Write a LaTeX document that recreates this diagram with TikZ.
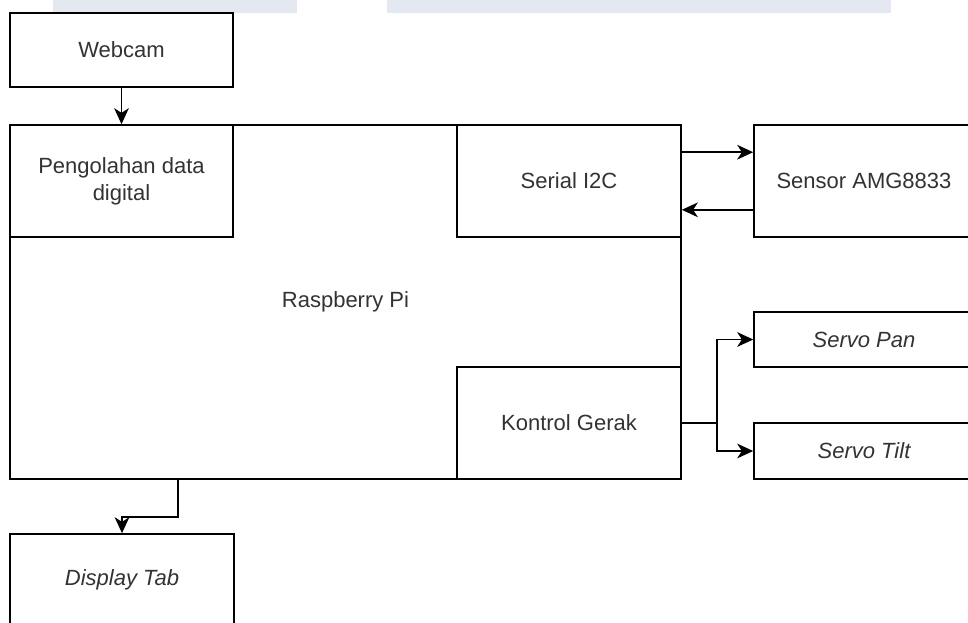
\documentclass[tikz,border=0pt]{standalone}
\usepackage{fontspec}
\setmainfont{Liberation Sans}
\usetikzlibrary{arrows.meta,calc}
\definecolor{txt}{RGB}{51,51,51}
\definecolor{bar}{RGB}{228,232,240}
\tikzset{
  blk/.style={draw=black, line width=1.2pt, fill=white, rectangle, inner sep=0pt,
    font=\fontsize{16.5}{20}\selectfont, text=txt, align=center},
  arr/.style={line width=1.2pt, -{Stealth[length=12pt,width=11pt,inset=3.5pt]}},
  lin/.style={line width=1.2pt},
}
\begin{document}
\begin{tikzpicture}[x=0.75pt,y=-0.75pt]
\clip (0,0) rectangle (968,622);
\fill[bar] (53,0) rectangle (297,13);
\fill[bar] (387,0) rectangle (891,13);
% boxes
\node[blk, minimum width=223*0.75pt, minimum height=74*0.75pt] (web) at (121.5,50) {Webcam};
\node[blk, minimum width=671*0.75pt, minimum height=354*0.75pt] (rpi) at (345.5,302) {Raspberry Pi};
\node[blk, minimum width=223*0.75pt, minimum height=112*0.75pt] (peng) at (121.5,181) {Pengolahan data\\digital};
\node[blk, minimum width=224*0.75pt, minimum height=112*0.75pt] (ser) at (569,181) {Serial I2C};
\node[blk, minimum width=224*0.75pt, minimum height=112*0.75pt] (kon) at (569,423) {Kontrol Gerak};
\node[blk, minimum width=220*0.75pt, minimum height=112*0.75pt] (sens) at (864,181) {Sensor AMG8833};
\node[blk, minimum width=220*0.75pt, minimum height=55*0.75pt] (pan) at (864,339.5) {\itshape Servo Pan};
\node[blk, minimum width=220*0.75pt, minimum height=56*0.75pt] (tilt) at (864,451) {\itshape Servo Tilt};
\node[blk, minimum width=224*0.75pt, minimum height=92*0.75pt] (disp) at (122,580) {\itshape Display Tab};
% connectors
\draw[arr] (web.south) -- (peng.north);
\draw[arr] ([yshift=-21pt]ser.north east) -- ([yshift=-21pt]sens.north west);
\draw[arr] ([yshift=21pt]sens.south west) -- ([yshift=21pt]ser.south east);
\coordinate (br) at (717,423);
\draw[lin] (kon.east) -- (br);
\draw[arr] (br) |- (pan.west);
\draw[arr] (br) |- (tilt.west);
\coordinate (d1) at (178,517);
\draw[arr] (rpi.south -| d1) -- (d1) -| (disp.north);
\end{tikzpicture}
\end{document}
